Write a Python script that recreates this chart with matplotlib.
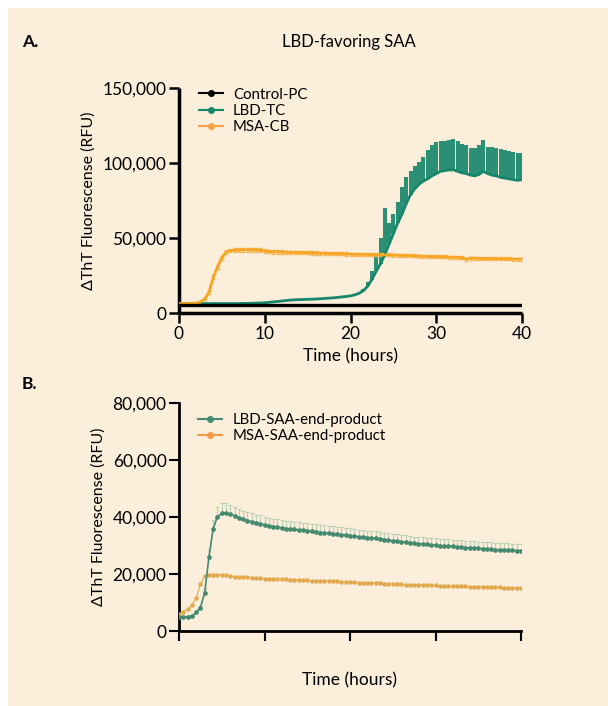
import numpy as np
import matplotlib.pyplot as plt
import matplotlib.patches as patches
from matplotlib.lines import Line2D

plt.rcParams['font.family'] = ['Lato', 'DejaVu Sans']

# time points (hours), one reading every half hour
hours = np.arange(0, 40.01, 0.5)

# ---- panel A: LBD-favoring SAA ----
control_pc = [5500, 5500, 5500, 5500, 5500, 5500, 5500, 5500, 5500, 5500,
              5500, 5500, 5500, 5500, 5500, 5500, 5500, 5500, 5500, 5500,
              5500, 5500, 5500, 5500, 5500, 5500, 5500, 5500, 5500, 5500,
              5500, 5500, 5500, 5500, 5500, 5500, 5500, 5500, 5500, 5500,
              5500, 5500, 5500, 5500, 5500, 5500, 5500, 5500, 5500, 5500,
              5500, 5500, 5500, 5500, 5500, 5500, 5500, 5500, 5500, 5500,
              5500, 5500, 5500, 5500, 5500, 5500, 5500, 5500, 5500, 5500,
              5500, 5500, 5500, 5500, 5500, 5500, 5500, 5500, 5500, 5500,
              5500]
lbd_tc = [6500, 6500, 6500, 6500, 6500, 6500, 6500, 6500, 6500, 6500,
          6500, 6500, 6500, 6500, 6500, 6600, 6600, 6700, 6800, 6900,
          7000, 7300, 7600, 7900, 8200, 8500, 8800, 9000, 9100, 9200,
          9300, 9400, 9500, 9700, 9900, 10100, 10300, 10600, 10900, 11200,
          11600, 12300, 13300, 15000, 18000, 22500, 28000, 33000, 39000, 46000,
          53000, 60000, 66000, 73000, 79000, 83000, 86000, 88000, 89500, 91500,
          93000, 94500, 95000, 95500, 95500, 94500, 93500, 93000, 92000, 91500,
          92500, 94500, 93000, 92000, 91500, 90500, 90000, 89500, 89000, 88500,
          89000]
lbd_tc_upper = [7000, 7000, 7000, 7000, 7000, 7000, 7000, 7000, 7000, 7000,
                7000, 7000, 7000, 7000, 7000, 7100, 7100, 7200, 7300, 7400,
                7500, 7800, 8100, 8400, 8700, 9000, 9300, 9500, 9600, 9700,
                9800, 9900, 10000, 10200, 10400, 10600, 10800, 11100, 11400, 11700,
                12100, 12800, 13800, 16000, 21000, 28000, 38000, 50000, 70000, 60000,
                66000, 74000, 84000, 91000, 95000, 98000, 101000, 104000, 109000, 112000,
                114000, 115000, 115000, 115500, 116000, 114500, 113000, 112000, 110000, 110000,
                112000, 115500, 111000, 110500, 110000, 109500, 108500, 108000, 107500, 107000,
                107000]
msa_cb = [6500, 6500, 6500, 6600, 6800, 7500, 9500, 14000, 24000, 31000,
          37000, 41000, 41800, 42000, 42200, 42300, 42300, 42200, 42200, 42000,
          41500, 41200, 41000, 40900, 40800, 40700, 40600, 40500, 40500, 40400,
          40300, 40200, 40100, 40000, 40000, 39900, 39800, 39700, 39600, 39500,
          39400, 39300, 39300, 39200, 39200, 39100, 39000, 39000, 38900, 38900,
          38800, 38700, 38600, 38500, 38400, 38300, 38100, 38000, 37900, 37800,
          37700, 37600, 37500, 37400, 37300, 37200, 37000, 36000, 36800, 36700,
          36600, 36500, 36400, 36400, 36300, 36300, 36200, 36200, 36100, 36100,
          36000]
msa_cb_err = [300, 300, 300, 300, 400, 600, 800, 1000, 1200, 1200,
              1200, 1200, 1200, 1200, 1200, 1200, 1200, 1200, 1200, 1200,
              1200, 1200, 1200, 1200, 1200, 1100, 1100, 1100, 1100, 1100,
              1100, 1100, 1100, 1100, 1100, 1100, 1100, 1100, 1100, 1100,
              1000, 1000, 1000, 1000, 1000, 1000, 1000, 1000, 1000, 1000,
              1000, 1000, 1000, 1000, 1000, 1000, 1000, 1000, 1000, 1000,
              1000, 1000, 1000, 1000, 1000, 1000, 1000, 1000, 1000, 1000,
              1000, 1000, 1000, 1000, 1000, 1000, 1000, 1000, 1000, 1000,
              1000]

# ---- panel B: end-product seeding ----
lbd_end = [4800, 4800, 4900, 5200, 6500, 8200, 13300, 26000, 36000, 40200,
           41300, 41500, 41000, 40500, 39800, 39200, 38800, 38400, 38000, 37700,
           37300, 37000, 36700, 36500, 36200, 36000, 35800, 35700, 35500, 35400,
           35200, 35000, 34800, 34600, 34500, 34300, 34200, 34000, 33900, 33700,
           33500, 33300, 33100, 33000, 32800, 32700, 32500, 32300, 32100, 31900,
           31700, 31500, 31300, 31200, 31000, 30800, 30700, 30500, 30400, 30300,
           30100, 30000, 29900, 29800, 29700, 29500, 29400, 29300, 29200, 29100,
           29000, 28900, 28800, 28700, 28600, 28500, 28500, 28400, 28300, 28200,
           28200]
lbd_end_err = [300, 300, 300, 300, 400, 600, 1500, 2500, 3000, 3500,
               3500, 3500, 3300, 3200, 3100, 3000, 3000, 2900, 2900, 2900,
               2800, 2800, 2800, 2800, 2800, 2800, 2700, 2700, 2700, 2700,
               2700, 2700, 2700, 2700, 2600, 2600, 2600, 2600, 2600, 2600,
               2600, 2600, 2500, 2500, 2500, 2500, 2500, 2500, 2500, 2500,
               2500, 2500, 2500, 2400, 2400, 2400, 2400, 2400, 2400, 2400,
               2400, 2400, 2400, 2400, 2400, 2400, 2400, 2400, 2400, 2400,
               2400, 2400, 2400, 2400, 2400, 2400, 2400, 2400, 2400, 2400,
               2400]
msa_end = [6000, 6800, 7600, 9000, 11500, 16500, 19200, 19800, 19800, 19700,
           19600, 19500, 19300, 19100, 19000, 18900, 18800, 18700, 18600, 18500,
           18400, 18300, 18300, 18200, 18200, 18100, 18000, 18000, 17900, 17900,
           17800, 17700, 17700, 17600, 17500, 17500, 17400, 17400, 17300, 17200,
           17200, 17100, 17000, 17000, 16900, 16800, 16700, 16700, 16600, 16500,
           16500, 16400, 16400, 16300, 16300, 16200, 16200, 16100, 16100, 16000,
           16000, 15900, 15900, 15900, 15800, 15800, 15700, 15700, 15600, 15600,
           15500, 15500, 15400, 15400, 15300, 15300, 15200, 15200, 15100, 15100,
           15000]

bg = '#FBEEDA'
teal_a = '#17876B'
orange_a = '#F6A623'
teal_b = '#458A70'
gold_b = '#E2A84C'

fig = plt.figure(figsize=(6.08, 7.06), dpi=100)
fig.patch.set_facecolor('white')
fig.patches.append(patches.Rectangle((8 / 608, 0), 1, 1 - 8 / 706, transform=fig.transFigure,
                                     facecolor=bg, edgecolor='none', zorder=-10))

# panel A
ax1 = fig.add_axes([179 / 608, 1 - 313.3 / 706, 343 / 608, 225.3 / 706])
ax1.set_facecolor('none')
lbd_tc_arr = np.array(lbd_tc)
ax1.errorbar(hours, lbd_tc, yerr=[np.zeros(len(hours)), np.array(lbd_tc_upper) - lbd_tc_arr],
             fmt='none', ecolor='#2A8F75', elinewidth=2.9, capsize=0, zorder=2)
ax1.errorbar(hours, msa_cb, yerr=msa_cb_err, fmt='none', ecolor='#F3B65A',
             elinewidth=1.0, capsize=1.5, capthick=1.0, zorder=2)
ax1.plot(hours, control_pc, color='black', lw=2.4, zorder=4)
ax1.plot(hours, lbd_tc, color=teal_a, lw=2.0, zorder=3)
ax1.plot(hours, msa_cb, color=orange_a, lw=2.0, zorder=3)
ax1.set_xlim(0, 40)
ax1.set_ylim(0, 150000)
ax1.set_xticks([0, 10, 20, 30, 40])
ax1.set_yticks([0, 50000, 100000, 150000])
ax1.set_yticklabels(['0', '50,000', '100,000', '150,000'])
for s in ['top', 'right']:
    ax1.spines[s].set_visible(False)
for s in ['left', 'bottom']:
    ax1.spines[s].set_linewidth(2.5)
    ax1.spines[s].set_capstyle('butt')
ax1.tick_params(width=1.8, length=7, labelsize=12.5, pad=2)
ax1.set_xlabel('Time (hours)', fontsize=12.5, labelpad=5)
ax1.set_ylabel('ΔThT Fluorescense (RFU)', fontsize=11.5, labelpad=5)
hA = [Line2D([], [], color=c, lw=1.5, marker='o', markersize=4) for c in ['black', teal_a, '#F7A24A']]
ax1.legend(hA, ['Control-PC', 'LBD-TC', 'MSA-CB'], loc='upper left', bbox_to_anchor=(0.035, 1.035),
           frameon=False, fontsize=10.8, handlelength=1.6, handletextpad=0.7,
           labelspacing=0.15, borderpad=0)

fig.text(22 / 608, 1 - 42 / 706, 'A.', fontsize=12.5, fontweight='bold', va='center')
fig.text(349 / 608, 1 - 42 / 706, 'LBD-favoring SAA', fontsize=12, ha='center', va='center')

# panel B
ax2 = fig.add_axes([179 / 608, 1 - 631 / 706, 342 / 608, 227.7 / 706])
ax2.set_facecolor('none')
ax2.errorbar(hours, lbd_end, yerr=[np.zeros(len(hours)), lbd_end_err], fmt='none',
             ecolor='#B9D0B4', elinewidth=0.8, capsize=1.5, capthick=0.8, zorder=2)
ax2.plot(hours, msa_end, color=gold_b, lw=0.8, marker='o', markersize=3.2,
         markeredgewidth=0, zorder=3)
ax2.plot(hours, lbd_end, color=teal_b, lw=1.2, marker='o', markersize=3.4,
         markeredgewidth=0, zorder=4)
ax2.set_xlim(0, 40)
ax2.set_ylim(0, 80000)
ax2.set_xticks([0, 10, 20, 30, 40])
ax2.set_xticklabels([])
ax2.set_yticks([0, 20000, 40000, 60000, 80000])
ax2.set_yticklabels(['0', '20,000', '40,000', '60,000', '80,000'])
for s in ['top', 'right']:
    ax2.spines[s].set_visible(False)
for s in ['left', 'bottom']:
    ax2.spines[s].set_linewidth(2)
ax2.tick_params(width=1.5, length=7, labelsize=12.5, pad=2)
ax2.set_ylabel('ΔThT Fluorescense (RFU)', fontsize=11.5, labelpad=5)
hB = [Line2D([], [], color=teal_b, lw=1.5, marker='o', markersize=4),
      Line2D([], [], color='#F39A45', lw=1.5, marker='o', markersize=4)]
ax2.legend(hB, ['LBD-SAA-end-product', 'MSA-SAA-end-product'], loc='upper left',
           bbox_to_anchor=(0.035, 0.99), frameon=False, fontsize=10.8, handlelength=1.6,
           handletextpad=0.7, labelspacing=0.15, borderpad=0)

fig.text(22 / 608, 1 - 384 / 706, 'B.', fontsize=12.5, fontweight='bold', va='center')
fig.text(349 / 608, 1 - 680 / 706, 'Time (hours)', fontsize=12.5, ha='center', va='center')

fig.savefig('out.png', dpi=100, facecolor=fig.get_facecolor())
